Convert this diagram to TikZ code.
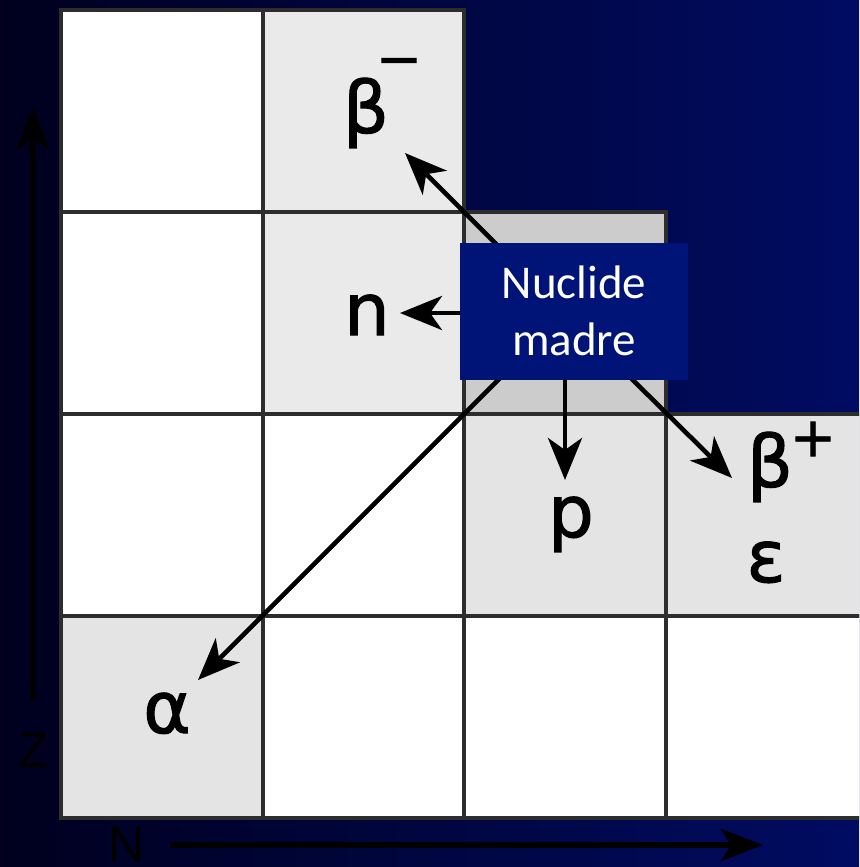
\documentclass[tikz,border=0pt]{standalone}
\usepackage{fontspec}
\setmainfont{DejaVu Sans}
\newfontfamily\symfont[FakeBold=1.5]{DejaVu Sans}
\newfontfamily\boxfont{Carlito}
\newfontfamily\axfont{Liberation Sans}
\usetikzlibrary{arrows.meta}
\definecolor{bgL}{RGB}{0,0,30}
\definecolor{bgR}{RGB}{0,12,98}
\definecolor{lg}{RGB}{234,234,234}
\definecolor{lg2}{RGB}{228,228,228}
\definecolor{dg}{RGB}{204,204,204}
\definecolor{boxblue}{RGB}{0,20,120}
\definecolor{gridc}{RGB}{45,45,45}
\begin{document}
\begin{tikzpicture}[x=1pt,y=-1pt,
  cell/.style={draw=gridc, line width=3.2pt},
  decay/.style={line width=4.6pt, -{Stealth[length=42pt,width=34pt,inset=12pt]}},
  axisarrow/.style={line width=6pt, black, -{Stealth[length=42pt,width=32pt,inset=10pt]}},
  sym/.style={font=\symfont\fontsize{72}{72}\selectfont, inner sep=0pt, anchor=base},
  sgn/.style={font=\symfont\fontsize{55}{55}\selectfont, inner sep=0pt},
  axislbl/.style={font=\axfont\fontsize{50}{50}\selectfont, text=black, inner sep=0pt},
]
\useasboundingbox (0,0) rectangle (859,867);
\clip (0,0) rectangle (859,867);
\shade[left color=bgL, right color=bgR] (0,0) rectangle (859,867);
% row 1
\path[cell, fill=white] (61,10) rectangle (263,212);
\path[cell, fill=lg] (263,10) rectangle (464,212);
% row 2
\path[cell, fill=white] (61,212) rectangle (263,414);
\path[cell, fill=lg] (263,212) rectangle (464,414);
\node[cell, fill=dg, minimum width=202pt, minimum height=202pt, inner sep=0pt] (pc) at (565,313) {};
% row 3
\path[cell, fill=white] (61,414) rectangle (263,616);
\path[cell, fill=white] (263,414) rectangle (464,616);
\path[cell, fill=lg2] (464,414) rectangle (666,616);
\path[cell, fill=lg2] (666,414) rectangle (900,616);
% row 4
\path[cell, fill=lg2] (61,616) rectangle (263,818);
\path[cell, fill=white] (263,616) rectangle (464,818);
\path[cell, fill=white] (464,616) rectangle (666,818);
\path[cell, fill=white] (666,616) rectangle (900,818);
% symbols
\node[sym] (bm) at (366,133) {β};
\node[sgn] (bmsign) at (399,68) {−};
\node[sym] (n) at (367,335) {n};
\node[sym] (p) at (571,537) {p};
\node[sym] (al) at (167,733) {α};
\node[sym] (bp) at (770,487) {β};
\node[sgn] (bpsign) at (813,439) {+};
\node[sym] (eps) at (766,582) {ε};
% arrow tips
\coordinate (tbm) at (405,153);
\coordinate (tn) at (400,313);
\coordinate (tp) at (565,480);
\coordinate (tbp) at (732,478);
\coordinate (tal) at (198,680);
\draw[decay] (pc.center) -- (tbm);
\draw[decay] (pc.center) -- (tn);
\draw[decay] (pc.center) -- (tp);
\draw[decay] (pc.center) -- (tbp);
\draw[decay] (pc.center) -- (tal);
% label box
\node[fill=boxblue, text=white, minimum width=228pt, minimum height=137pt, inner sep=0pt, align=center, font=\boxfont\fontsize{47}{57}\selectfont] (nm) at (574,311) {Nuclide\\madre};
% axes
\coordinate (zs) at (33,700);
\coordinate (ze) at (33,107);
\draw[axisarrow] (zs) -- (ze);
\node[axislbl] (Z) at (34,750) {Z};
\coordinate (ns) at (170,845);
\coordinate (ne) at (763,845);
\draw[axisarrow] (ns) -- (ne);
\node[axislbl] (N) at (127,844) {N};
\end{tikzpicture}
\end{document}
